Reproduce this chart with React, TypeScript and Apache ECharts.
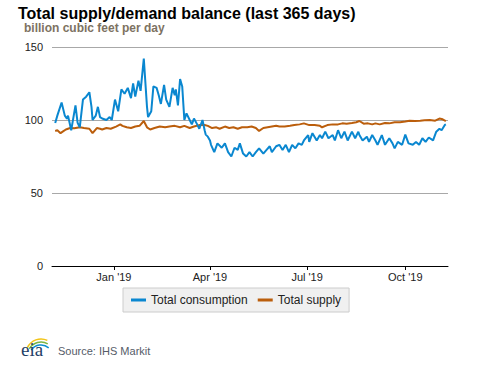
import React, { useEffect, useRef } from "react";
import * as echarts from "echarts";

const titleText = "Total supply/demand balance (last 365 days)";
const subtitleText = "billion cubic feet per day";
const sourceText = "Source: IHS Markit";
const seriesNames = ["Total consumption", "Total supply"];

const axisStart = "2018-11-04";
const axisEnd = "2019-11-10";
const tickDates = ["2019-01-01", "2019-04-01", "2019-07-01", "2019-10-01"];
const tickLabels = ["Jan '19", "Apr '19", "Jul '19", "Oct '19"];
const yTicks = [0, 50, 100, 150];

const consumptionDates = [
  "2018-11-07", "2018-11-09", "2018-11-13", "2018-11-16", "2018-11-18", "2018-11-19", "2018-11-22", "2018-11-26",
  "2018-11-28", "2018-11-30", "2018-12-03", "2018-12-06", "2018-12-09", "2018-12-11", "2018-12-12", "2018-12-15",
  "2018-12-17", "2018-12-19", "2018-12-21", "2018-12-25", "2018-12-28", "2018-12-30", "2019-01-02", "2019-01-05",
  "2019-01-08", "2019-01-11", "2019-01-14", "2019-01-17", "2019-01-19", "2019-01-21", "2019-01-24", "2019-01-26",
  "2019-01-29", "2019-02-01", "2019-02-02", "2019-02-05", "2019-02-07", "2019-02-10", "2019-02-12", "2019-02-14",
  "2019-02-17", "2019-02-19", "2019-02-22", "2019-02-25", "2019-02-27", "2019-02-28", "2019-03-02", "2019-03-04",
  "2019-03-06", "2019-03-08", "2019-03-10", "2019-03-13", "2019-03-15", "2019-03-17", "2019-03-20", "2019-03-22",
  "2019-03-25", "2019-03-27", "2019-03-28", "2019-03-30", "2019-04-01", "2019-04-02", "2019-04-05", "2019-04-08",
  "2019-04-12", "2019-04-15", "2019-04-18", "2019-04-21", "2019-04-24", "2019-04-27", "2019-04-29", "2019-05-02",
  "2019-05-05", "2019-05-08", "2019-05-11", "2019-05-14", "2019-05-17", "2019-05-21", "2019-05-24", "2019-05-27",
  "2019-05-29", "2019-06-02", "2019-06-05", "2019-06-08", "2019-06-11", "2019-06-14", "2019-06-17", "2019-06-20",
  "2019-06-23", "2019-06-26", "2019-06-28", "2019-07-02", "2019-07-03", "2019-07-06", "2019-07-10", "2019-07-13",
  "2019-07-15", "2019-07-18", "2019-07-21", "2019-07-25", "2019-07-27", "2019-07-30", "2019-08-02", "2019-08-05",
  "2019-08-08", "2019-08-12", "2019-08-15", "2019-08-18", "2019-08-19", "2019-08-22", "2019-08-26", "2019-08-28",
  "2019-08-31", "2019-09-03", "2019-09-05", "2019-09-09", "2019-09-12", "2019-09-16", "2019-09-19", "2019-09-21",
  "2019-09-24", "2019-09-28", "2019-10-01", "2019-10-04", "2019-10-08", "2019-10-11", "2019-10-14", "2019-10-17",
  "2019-10-20", "2019-10-23", "2019-10-27", "2019-10-30", "2019-11-02", "2019-11-04", "2019-11-07", "2019-11-08",
];
const consumptionValues = [
  98, 103, 112, 103, 101, 103, 93, 110,
  98, 95, 114, 116, 119, 109, 100, 103,
  109, 102, 101, 100, 102, 100, 114, 106,
  121, 118, 122, 115, 125, 116, 127, 120,
  142, 109, 102, 106, 123, 122, 117, 111,
  124, 114, 109, 122, 117, 121, 110, 128,
  123, 100, 104.5, 100, 97, 101, 97, 94,
  100, 93, 90, 88.6, 86, 83, 78, 84,
  81, 84, 78, 75, 81, 79.5, 84, 77,
  75, 78, 75, 78, 80.6, 77, 79.5, 82,
  78, 82, 83, 79.5, 83, 78, 83, 80.6,
  84, 83, 86, 89.7, 85, 91, 86, 89.7,
  87.5, 92, 87.5, 89.7, 86, 93, 87.5, 92,
  86, 92, 87.5, 92, 89.7, 86, 88.6, 85,
  89.7, 86, 83, 89.7, 83, 87.5, 84, 80.6,
  85, 83, 90, 84, 83, 85, 83, 87.5,
  85, 88, 86, 92, 94, 93, 96.6, 97,
];

const supplyDates = [
  "2018-11-07", "2018-11-09", "2018-11-12", "2018-11-14", "2018-11-17", "2018-11-21", "2018-11-25", "2018-11-30",
  "2018-12-04", "2018-12-09", "2018-12-12", "2018-12-16", "2018-12-19", "2018-12-21", "2018-12-25", "2018-12-29",
  "2019-01-03", "2019-01-07", "2019-01-09", "2019-01-13", "2019-01-17", "2019-01-21", "2019-01-25", "2019-01-29",
  "2019-02-01", "2019-02-04", "2019-02-08", "2019-02-13", "2019-02-18", "2019-02-22", "2019-02-27", "2019-03-04",
  "2019-03-08", "2019-03-13", "2019-03-17", "2019-03-22", "2019-03-27", "2019-03-30", "2019-04-03", "2019-04-07",
  "2019-04-10", "2019-04-15", "2019-04-19", "2019-04-23", "2019-04-27", "2019-05-01", "2019-05-06", "2019-05-10",
  "2019-05-14", "2019-05-17", "2019-05-21", "2019-05-25", "2019-05-29", "2019-06-02", "2019-06-05", "2019-06-10",
  "2019-06-15", "2019-06-19", "2019-06-24", "2019-06-28", "2019-07-03", "2019-07-08", "2019-07-13", "2019-07-15",
  "2019-07-20", "2019-07-25", "2019-07-30", "2019-08-03", "2019-08-07", "2019-08-12", "2019-08-16", "2019-08-19",
  "2019-08-23", "2019-08-27", "2019-08-31", "2019-09-03", "2019-09-07", "2019-09-12", "2019-09-16", "2019-09-21",
  "2019-09-26", "2019-10-01", "2019-10-05", "2019-10-10", "2019-10-15", "2019-10-19", "2019-10-24", "2019-10-29",
  "2019-11-02", "2019-11-05", "2019-11-08",
];
const supplyValues = [
  92.5, 93, 91, 92, 93.5, 94.5, 94.3, 95,
  94.5, 94, 91, 94.5, 94, 93.5, 94.5, 94,
  95.5, 97, 96, 95, 94.5, 95.5, 96, 99.3,
  95, 93.5, 94.5, 95.5, 95, 95.5, 96, 95,
  96, 94.5, 95.5, 96.5, 96.6, 96, 94.5, 95,
  94, 95.5, 94.5, 95, 94, 95, 95, 95.5,
  94.5, 92.5, 94.5, 95, 95.5, 96, 95.5, 95.5,
  96, 96.5, 97, 97.7, 96.5, 96.5, 96, 95,
  96.5, 97, 97, 97.7, 97.5, 98, 98.5, 99.3,
  97.5, 97.7, 97, 97.7, 97, 98, 97.7, 98.5,
  98.5, 99, 99.5, 99.3, 99.5, 99.8, 100, 99.5,
  101, 100.5, 99.3,
];

const toTime = (s: string) => {
  const [y, m, d] = s.split("-").map(Number);
  return Date.UTC(y, m - 1, d);
};

const FONT = "'Liberation Sans', Arial, sans-serif";

export default function App() {
  const ref = useRef<HTMLDivElement>(null);
  useEffect(() => {
    if (!ref.current) return;
    const chart = echarts.init(ref.current, undefined, { renderer: "svg" });
    const tickTimes = tickDates.map(toTime);
    const consumption = consumptionDates.map((d, i) => [toTime(d), consumptionValues[i]]);
    const supply = supplyDates.map((d, i) => [toTime(d), supplyValues[i]]);
    chart.setOption({
      animation: false,
      backgroundColor: "#ffffff",
      textStyle: { fontFamily: FONT },
      title: [
        {
          text: titleText,
          left: 13,
          top: 0,
          textStyle: { fontSize: 16, fontWeight: "bold", color: "#000000", fontFamily: FONT },
        },
        {
          text: subtitleText,
          left: 19,
          top: 17,
          textStyle: { fontSize: 12, fontWeight: "bold", color: "#7d7262", fontFamily: FONT },
        },
      ],
      grid: { left: 52, right: 29, top: 47, bottom: 101, containLabel: false },
      legend: {
        data: seriesNames,
        left: 123,
        top: 288,
        padding: [6, 8],
        itemGap: 10,
        itemWidth: 15,
        itemHeight: 3,
        icon: "rect",
        backgroundColor: "#f0f0f0",
        borderColor: "#cccccc",
        borderWidth: 1,
        textStyle: { fontSize: 12, color: "#222222", fontFamily: FONT },
      },
      xAxis: {
        type: "value",
        min: toTime(axisStart),
        max: toTime(axisEnd),
        axisLine: { show: true, onZero: false, lineStyle: { color: "#000000", width: 1 } },
        axisTick: { show: true, length: 4, lineStyle: { color: "#000000" }, customValues: tickTimes },
        axisLabel: {
          customValues: tickTimes,
          margin: 5,
          fontSize: 11,
          color: "#222222",
          fontFamily: FONT,
          showMinLabel: true,
          showMaxLabel: true,
          formatter: (v: number) => {
            const idx = tickTimes.indexOf(v);
            return idx >= 0 ? tickLabels[idx] : "";
          },
        },
        splitLine: { show: false },
      },
      yAxis: {
        type: "value",
        min: yTicks[0],
        max: yTicks[yTicks.length - 1],
        interval: 50,
        axisLine: { show: false },
        axisTick: { show: false },
        axisLabel: { fontSize: 11, color: "#222222", margin: 9, fontFamily: FONT },
        splitLine: { show: true, lineStyle: { color: "#a8a8a8", width: 1 } },
      },
      series: [
        {
          name: seriesNames[1],
          type: "line",
          data: supply,
          showSymbol: false,
          symbol: "none",
          color: "#bb5e0c",
          lineStyle: { width: 2, color: "#bb5e0c" },
          z: 2,
        },
        {
          name: seriesNames[0],
          type: "line",
          data: consumption,
          showSymbol: false,
          symbol: "none",
          color: "#0a87d0",
          lineStyle: { width: 2, color: "#0a87d0" },
          z: 3,
        },
      ],
      graphic: [
        {
          type: "arc",
          shape: { cx: 41, cy: 354, r: 15, startAngle: (205 * Math.PI) / 180, endAngle: (295 * Math.PI) / 180, clockwise: true },
          style: { stroke: "#f2c418", lineWidth: 1.5, fill: "none" },
        },
        {
          type: "arc",
          shape: { cx: 41, cy: 355.5, r: 13.5, startAngle: (210 * Math.PI) / 180, endAngle: (300 * Math.PI) / 180, clockwise: true },
          style: { stroke: "#7bb543", lineWidth: 1.5, fill: "none" },
        },
        {
          type: "arc",
          shape: { cx: 41, cy: 357, r: 12, startAngle: (215 * Math.PI) / 180, endAngle: (310 * Math.PI) / 180, clockwise: true },
          style: { stroke: "#0c8fcf", lineWidth: 1.5, fill: "none" },
        },
        {
          type: "text",
          left: 21,
          top: 340,
          style: {
            text: "eia",
            font: "19px 'Liberation Serif', 'DejaVu Serif', serif",
            fill: "#1f3f66",
          },
        },
        {
          type: "text",
          left: 58,
          top: 345,
          style: {
            text: sourceText,
            font: `11px ${FONT}`,
            fill: "#555c68",
          },
        },
      ],
    });
    return () => chart.dispose();
  }, []);
  return (
    <div
      ref={ref}
      style={{ position: "fixed", left: 0, top: 0, width: 477, height: 367 }}
    />
  );
}
